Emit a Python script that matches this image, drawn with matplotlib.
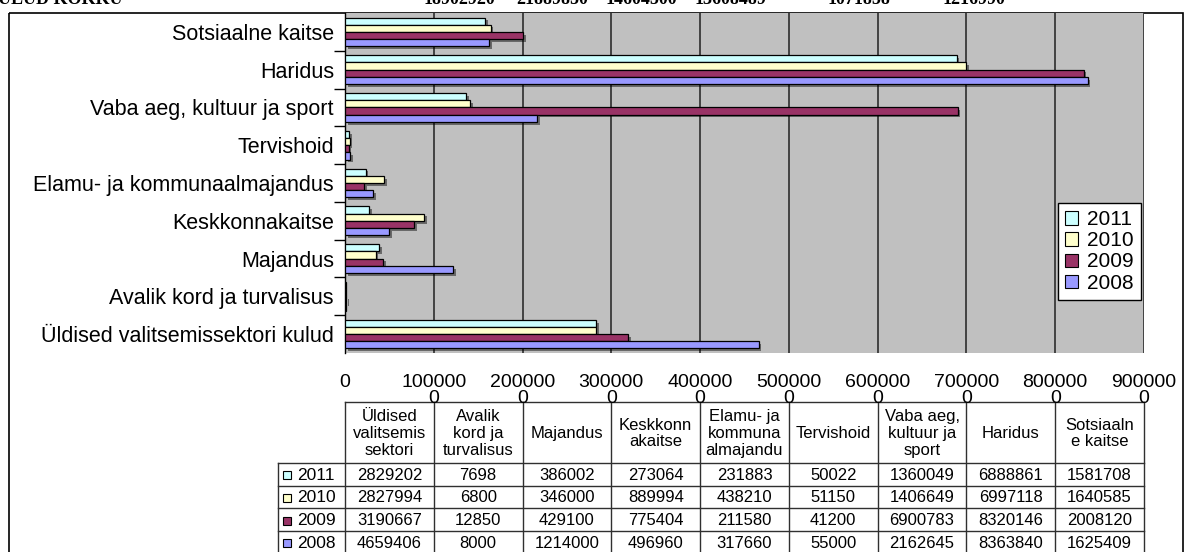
import matplotlib
matplotlib.use("Agg")
import matplotlib.pyplot as plt
import matplotlib.patheffects as pe
from matplotlib.patches import Rectangle, Patch

plt.rcParams['font.family'] = ['Liberation Sans', 'DejaVu Sans']

# data (bottom to top in the chart, left to right in the table)
categories = ["Üldised valitsemissektori kulud", "Avalik kord ja turvalisus", "Majandus",
              "Keskkonnakaitse", "Elamu- ja kommunaalmajandus", "Tervishoid",
              "Vaba aeg, kultuur ja sport", "Haridus", "Sotsiaalne kaitse"]
table_headers = ["Üldised\nvalitsemis\nsektori", "Avalik\nkord ja\nturvalisus", "Majandus",
                 "Keskkonn\nakaitse", "Elamu- ja\nkommuna\nalmajandu", "Tervishoid",
                 "Vaba aeg,\nkultuur ja\nsport", "Haridus", "Sotsiaaln\ne kaitse"]
years = ["2011", "2010", "2009", "2008"]
v2011 = [2829202, 7698, 386002, 273064, 231883, 50022, 1360049, 6888861, 1581708]
v2010 = [2827994, 6800, 346000, 889994, 438210, 51150, 1406649, 6997118, 1640585]
v2009 = [3190667, 12850, 429100, 775404, 211580, 41200, 6900783, 8320146, 2008120]
v2008 = [4659406, 8000, 1214000, 496960, 317660, 55000, 2162645, 8363840, 1625409]
top_line = ["KULUD KOKKU", "18902920", "21889850", "14604500", "13608489", "1071858", "1216990"]

series = [v2011, v2010, v2009, v2008]
colors = ["#CCFFFF", "#FFFFCC", "#993366", "#9999FF"]

W, H = 1189, 552
fig = plt.figure(figsize=(W / 100, H / 100), dpi=100)

# pixel layout
PL, PR, PT, PB = 345, 1144, 13, 353

# background helper axes in pixel coordinates
bg = fig.add_axes([0, 0, 1, 1], zorder=0)
bg.set_xlim(0, W)
bg.set_ylim(H, 0)
bg.axis('off')

ax = fig.add_axes([PL / W, 1 - PB / H, (PR - PL) / W, (PB - PT) / H], zorder=1)
ax.set_facecolor("#C0C0C0")

n = len(categories)
h = 0.19
offsets = [1.5 * h, 0.5 * h, -0.5 * h, -1.5 * h]
shadow = [pe.SimplePatchShadow(offset=(2, -2), shadow_rgbFace='black', alpha=0.45), pe.Normal()]
for vals, col, off in zip(series, colors, offsets):
    bars = ax.barh([i + off for i in range(n)], vals, height=h, color=col,
                   edgecolor='black', linewidth=0.9, zorder=3)
    for b in bars:
        b.set_path_effects(shadow)

ax.set_xlim(0, 9000000)
ax.set_ylim(-0.5, n - 0.5)
xt = list(range(0, 9000001, 1000000))
xl = []
for v in xt:
    s = str(v)
    if len(s) > 6:
        s = s[:6] + "\n" + s[6:]
    xl.append(s)
ax.set_xticks(xt)
ax.set_xticklabels(xl, fontsize=14, linespacing=0.95, multialignment='center')
ax.tick_params(axis='x', length=0, pad=15)
ax.grid(axis='x', color='#202020', linewidth=1.1, zorder=1)
ax.set_axisbelow(True)

ax.set_yticks(range(n))
ax.set_yticklabels(categories, fontsize=15.5)
ax.tick_params(axis='y', which='major', length=0, pad=8)
ax.set_yticks([i + 0.5 for i in range(n - 1)], minor=True)
ax.tick_params(axis='y', which='minor', length=8, width=1, color='black', direction='out')

for s in ['top', 'right', 'bottom']:
    ax.spines[s].set_visible(False)
ax.spines['left'].set_color('black')
ax.spines['left'].set_linewidth(1)

handles = [Patch(facecolor=c, edgecolor='black', linewidth=0.8, label=y) for c, y in zip(colors, years)]
leg = ax.legend(handles=handles, loc='upper left', bbox_to_anchor=(1058 / W, 1 - 203 / H),
                bbox_transform=fig.transFigure, borderaxespad=0, fontsize=15,
                handlelength=0.6, handleheight=0.6, handletextpad=0.45, borderpad=0.35,
                labelspacing=0.1, fancybox=False, framealpha=1, edgecolor='black')
leg.get_frame().set_linewidth(1)

# outer chart border
bg.add_patch(Rectangle((9, 13), 1183 - 9, 560, fill=False, edgecolor='black', linewidth=1.2))

# cut-off line of text above the chart
top_x = [123, 495, 588, 677, 766, 890, 1005]
for txt, x in zip(top_line, top_x):
    bg.text(x, 4, txt, ha='right', va='baseline', fontsize=13, fontweight='bold',
            family='Liberation Serif')

# data table
cw = (PR - PL) / n
col_x = [PL + i * cw for i in range(n + 1)]
hdr_top, hdr_bot = 402, 463
rh = 22.6
row_y = [hdr_bot + i * rh for i in range(len(years) + 1)]
lbl_left = 278
lc = '#303030'
bg.plot([PL, PR], [hdr_top, hdr_top], color=lc, lw=1)
for y in row_y[:-1]:
    bg.plot([lbl_left, PR], [y, y], color=lc, lw=1)
for x in col_x:
    bg.plot([x, x], [hdr_top, H + 5], color=lc, lw=1)
bg.plot([lbl_left, lbl_left], [hdr_bot, H + 5], color=lc, lw=1)

for j, hdr in enumerate(table_headers):
    bg.text((col_x[j] + col_x[j + 1]) / 2, (hdr_top + hdr_bot) / 2 + 1, hdr, ha='center',
            va='center', fontsize=12, linespacing=1.15, multialignment='center')
for i, (vals, col, yr) in enumerate(zip(series, colors, years)):
    yc = (row_y[i] + row_y[i + 1]) / 2
    bg.add_patch(Rectangle((283, yc - 3), 8, 8, facecolor=col, edgecolor='black', linewidth=0.8))
    bg.text(297, yc + 1, yr, ha='left', va='center', fontsize=12.5)
    for j, v in enumerate(vals):
        bg.text((col_x[j] + col_x[j + 1]) / 2, yc + 1, str(v), ha='center', va='center', fontsize=12)

fig.savefig("out.png", dpi=100)
